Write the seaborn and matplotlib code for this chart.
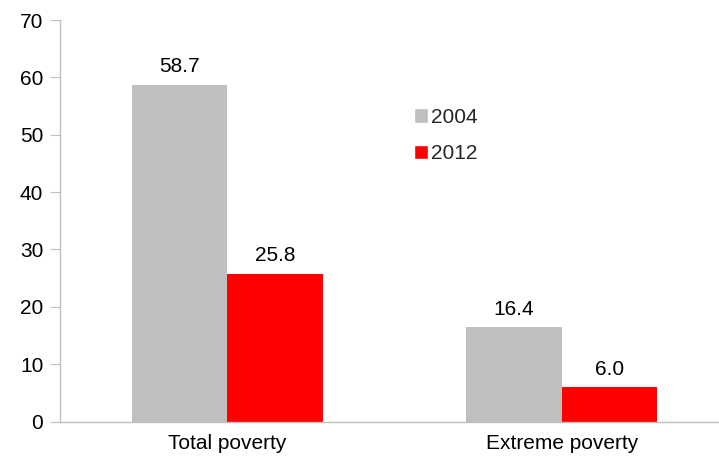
import pandas as pd
import matplotlib.pyplot as plt
import seaborn as sns
from matplotlib.patches import Patch

categories = ['Total poverty', 'Extreme poverty']
years = ['2004', '2012']
values_2004 = [58.7, 16.4]
values_2012 = [25.8, 6.0]

df = pd.DataFrame({
    'category': categories * 2,
    'year': [years[0]] * 2 + [years[1]] * 2,
    'value': values_2004 + values_2012,
})

sns.set_style('white')
plt.rcParams['font.family'] = ['Liberation Sans', 'DejaVu Sans']

fig = plt.figure(figsize=(7.19, 4.58), dpi=100)
ax = fig.add_axes([60 / 719, 36.5 / 458, 669 / 719, 401.5 / 458])

sns.barplot(data=df, x='category', y='value', hue='year',
            palette={'2004': '#BFBFBF', '2012': '#FF0000'},
            width=0.57, saturation=1, linewidth=0, ax=ax, legend=False)

for cont in ax.containers:
    ax.bar_label(cont, fmt='%.1f', padding=6, fontsize=15, color='#000000')

ax.set_xlim(-0.5, 1.5)
ax.set_ylim(0, 70)
ax.set_yticks(range(0, 71, 10))
ax.set_xlabel('')
ax.set_ylabel('')

for side in ['top', 'right']:
    ax.spines[side].set_visible(False)
for side in ['left', 'bottom']:
    ax.spines[side].set_color('#BFBFBF')
    ax.spines[side].set_linewidth(1)

ax.set_xticks([0, 1])
ax.set_xticks([-0.5, 0.5, 1.5], minor=True)
ax.tick_params(axis='x', which='major', length=0, labelsize=15, pad=9,
               labelcolor='#000000')
ax.tick_params(axis='x', which='minor', length=7, color='#BFBFBF', direction='out')
ax.tick_params(axis='y', length=7, color='#BFBFBF', direction='out',
               left=True, labelsize=15, pad=5, labelcolor='#000000')

handles = [Patch(facecolor='#BFBFBF', label='2004'),
           Patch(facecolor='#FF0000', label='2012')]
fig.legend(handles=handles, loc='upper left',
           bbox_to_anchor=(395 / 719, 1 - 89 / 458), frameon=False,
           fontsize=15, handlelength=0.7, handleheight=0.7,
           handletextpad=0.15, labelspacing=0.85)

fig.savefig('out.png', dpi=100)
